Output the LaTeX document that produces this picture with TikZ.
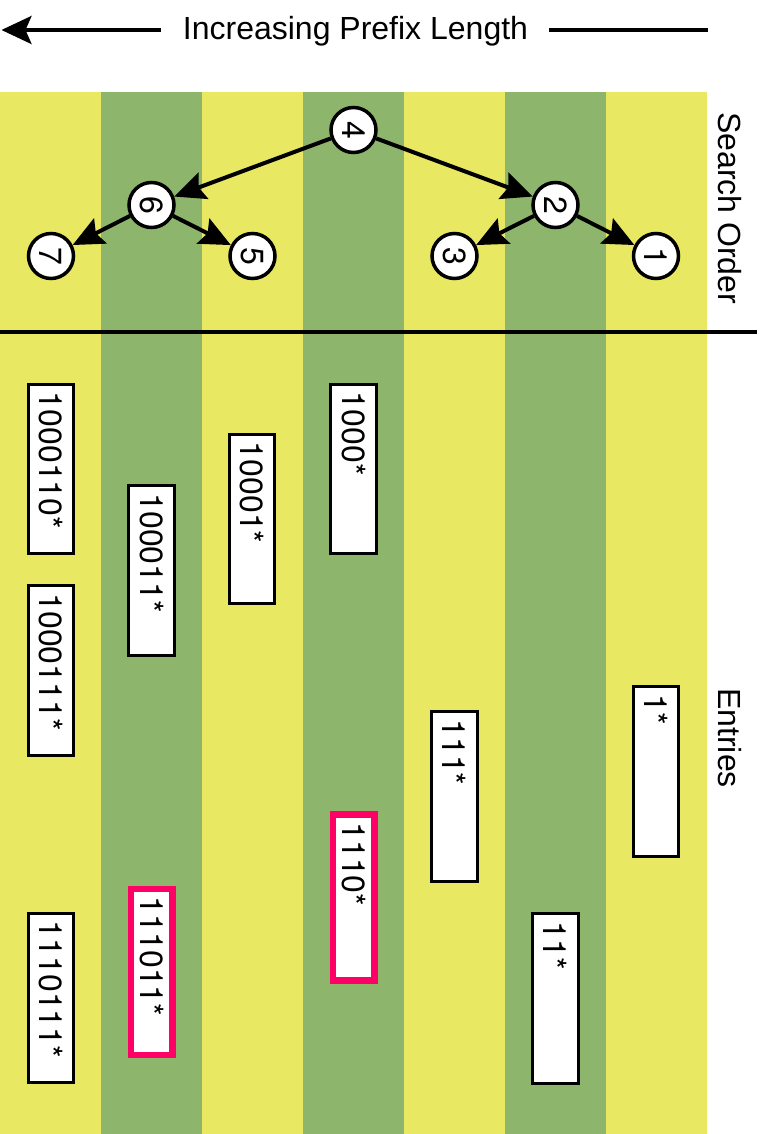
\documentclass[tikz,border=0pt]{standalone}
\usepackage{fontspec}
\setmainfont{Liberation Sans}
\newfontfamily\arialfam{Liberation Sans}
\newfontfamily\digfam{TeX Gyre Heros}
\usetikzlibrary{arrows.meta,calc}
\definecolor{stripY}{HTML}{E8E862}
\definecolor{stripG}{HTML}{8DB56B}
\definecolor{hot}{HTML}{FF0066}
\begin{document}
\begin{tikzpicture}[x=1pt,y=-1pt,
  font=\arialfam\fontsize{32}{38}\selectfont,
  circ/.style={circle, draw, line width=3.5pt, fill=white, minimum size=45pt, inner sep=0pt, rotate=-90,
               font=\digfam\fontsize{32}{38}\selectfont},
  entry/.style={draw, line width=3pt, fill=white, rotate=-90, minimum height=45.5pt, minimum width=169.5pt,
                inner sep=0pt},
  hotentry/.style={entry, draw=hot, line width=6.5pt, minimum height=41.5pt, minimum width=166pt},
  entrytext/.style={rotate=-90, anchor=west, inner sep=0pt, font=\digfam\fontsize{32}{38}\selectfont},
  treearrow/.style={line width=4pt, -{Stealth[length=31pt,width=28pt,inset=5pt]}},
  sideLabel/.style={rotate=-90, anchor=base west, inner sep=0pt}
]
\useasboundingbox (0,0) rectangle (761,1134);
% stripes
\foreach \i in {0,2,4,6} \fill[stripY] (101*\i,92) rectangle (101*\i+101,1134);
\foreach \i in {1,3,5} \fill[stripG] (101*\i,92) rectangle (101*\i+101,1134);

% title
\node[anchor=base, inner sep=0pt] (title) at (355.5,40) {Increasing Prefix Length};
\coordinate (tA) at (161,30);
\coordinate (tB) at (1.5,30);
\coordinate (tC) at (549,30);
\coordinate (tD) at (708,30);
\draw[line width=3.5pt, -{Stealth[length=30pt,width=28pt,inset=6pt]}] (tA) -- (tB);
\draw[line width=3.5pt] (tC) -- (tD);

% separator
\coordinate (sL) at (0,332);
\coordinate (sR) at (757,332);
\draw[line width=3.5pt] (sL) -- (sR);

% side labels
\node[sideLabel] (so) at (718,112) {Search Order};
\node[sideLabel] (en) at (718,688) {Entries};

% tree
\node[circ] (n4) at (353.5,130) {4};
\node[circ] (n6) at (151.5,205) {6};
\node[circ] (n2) at (555.5,205) {2};
\node[circ] (n7) at (51,256) {7};
\node[circ] (n5) at (252.5,256) {5};
\node[circ] (n3) at (454.5,256) {3};
\node[circ] (n1) at (656,256) {1};
\draw[treearrow] (n4) -- (n6);
\draw[treearrow] (n4) -- (n2);
\draw[treearrow] (n6) -- (n7);
\draw[treearrow] (n6) -- (n5);
\draw[treearrow] (n2) -- (n3);
\draw[treearrow] (n2) -- (n1);

% entries
\node[entry] (e1) at (51,469) {};
\node[entry] (e2) at (51,670.5) {};
\node[entry] (e3) at (51,998) {};
\node[entry] (e4) at (151.5,570.5) {};
\node[hotentry] (e5) at (151.5,972) {};
\node[entry] (e6) at (252,519) {};
\node[entry] (e7) at (353.5,469) {};
\node[hotentry] (e8) at (353.5,897.5) {};
\node[entry] (e9) at (454.5,796.5) {};
\node[entry] (e10) at (555.5,998.5) {};
\node[entry] (e11) at (656,771.5) {};

\node[entrytext] (t1) at ($(e1.west)+(0,9)$) {1000110*};
\node[entrytext] (t2) at ($(e2.west)+(0,9)$) {1000111*};
\node[entrytext] (t3) at ($(e3.west)+(0,9)$) {1110111*};
\node[entrytext] (t4) at ($(e4.west)+(0,9)$) {100011*};
\node[entrytext] (t5) at ($(e5.west)+(0,11)$) {111011*};
\node[entrytext] (t6) at ($(e6.west)+(0,9)$) {10001*};
\node[entrytext] (t7) at ($(e7.west)+(0,9)$) {1000*};
\node[entrytext] (t8) at ($(e8.west)+(0,11)$) {1110*};
\node[entrytext] (t9) at ($(e9.west)+(0,9)$) {111*};
\node[entrytext] (t10) at ($(e10.west)+(0,9)$) {11*};
\node[entrytext] (t11) at ($(e11.west)+(0,9)$) {1*};
\end{tikzpicture}
\end{document}
